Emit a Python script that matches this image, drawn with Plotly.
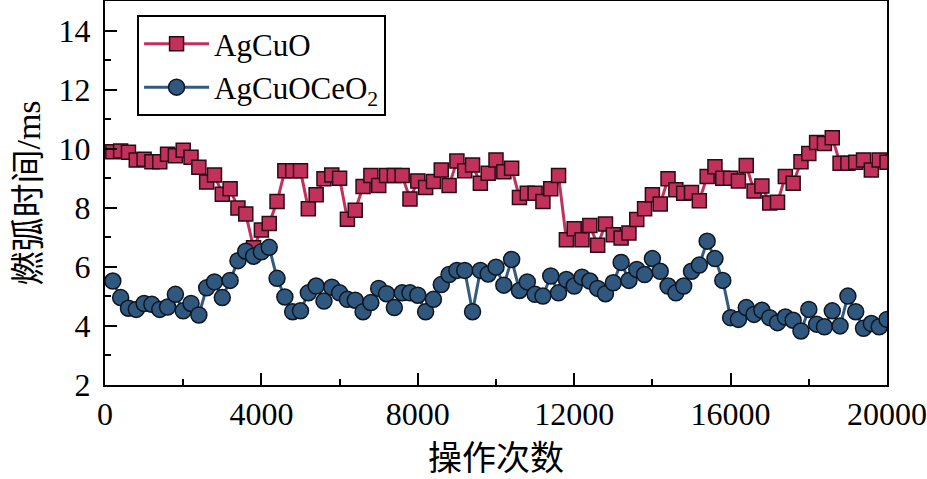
import plotly.graph_objects as go

ops = [200 * i for i in range(1, 101)]

agcuo = [9.90, 9.92, 9.88, 9.62, 9.64, 9.56, 9.56, 9.81, 9.76, 9.95,
         9.71, 9.37, 8.87, 9.11, 8.46, 8.64, 7.99, 7.79, 6.65, 7.25,
         7.47, 8.21, 9.25, 9.25, 9.25, 7.97, 8.44, 8.98, 9.11, 9.00,
         7.61, 7.92, 8.72, 9.09, 8.75, 9.09, 9.09, 9.09, 8.30, 8.91,
         8.69, 8.89, 9.28, 8.75, 9.58, 9.25, 9.45, 8.83, 9.17, 9.62,
         9.22, 9.34, 8.35, 8.49, 8.49, 8.21, 8.64, 9.09, 6.92, 7.29,
         6.92, 7.40, 6.73, 7.45, 7.09, 6.98, 7.15, 7.60, 7.97, 8.44,
         8.13, 8.98, 8.61, 8.49, 8.52, 8.24, 9.06, 9.39, 9.00, 9.00,
         8.91, 9.43, 8.57, 8.74, 8.16, 8.19, 9.06, 8.83, 9.56, 9.84,
         10.21, 10.18, 10.37, 9.51, 9.51, 9.54, 9.62, 9.28, 9.62, 9.54]

agcuoceo2 = [5.52, 4.96, 4.60, 4.56, 4.76, 4.73, 4.56, 4.64, 5.07, 4.51,
             4.76, 4.37, 5.29, 5.49, 4.96, 5.54, 6.21, 6.53, 6.36, 6.51,
             6.66, 5.61, 4.98, 4.48, 4.51, 5.12, 5.35, 4.84, 5.31, 5.12,
             4.90, 4.87, 4.48, 4.79, 5.27, 5.09, 4.62, 5.12, 5.12, 5.04,
             4.48, 4.90, 5.40, 5.74, 5.88, 5.88, 4.48, 5.88, 5.76, 5.99,
             5.38, 6.25, 5.20, 5.49, 5.07, 5.01, 5.69, 5.12, 5.57, 5.35,
             5.65, 5.52, 5.27, 5.09, 5.46, 6.15, 5.54, 5.91, 5.74, 6.28,
             5.85, 5.35, 5.12, 5.35, 5.85, 6.06, 6.87, 6.28, 5.54, 4.28,
             4.22, 4.62, 4.39, 4.53, 4.28, 4.11, 4.30, 4.19, 3.83, 4.56,
             4.06, 3.97, 4.51, 4.00, 5.01, 4.48, 3.92, 4.08, 3.97, 4.22]

x_ticks = [0, 4000, 8000, 12000, 16000, 20000]
y_ticks = [2, 4, 6, 8, 10, 12, 14]

serif = "Liberation Serif, Times New Roman, Noto Sans CJK SC, serif"
title_font = "Liberation Serif, Noto Sans CJK SC, serif"

fig = go.Figure()
fig.add_trace(go.Scatter(
    x=ops, y=agcuo, name="AgCuO", mode="lines+markers",
    line=dict(color="#C2305C", width=3),
    marker=dict(symbol="square", size=14, color="#C2305C",
                line=dict(color="#2a0a14", width=1.5)),
))
fig.add_trace(go.Scatter(
    x=ops, y=agcuoceo2, name="AgCuOCeO<sub>2</sub>", mode="lines+markers",
    line=dict(color="#345A80", width=3),
    marker=dict(symbol="circle", size=16, color="#30587F",
                line=dict(color="#0d1620", width=1.5)),
))

fig.update_layout(
    width=927, height=479,
    margin=dict(l=105, r=40, t=1, b=94),
    paper_bgcolor="white", plot_bgcolor="white",
    font=dict(family=serif, size=31, color="black"),
    showlegend=True,
    legend=dict(
        x=0.041, y=0.963, xanchor="left", yanchor="top",
        bgcolor="white", bordercolor="black", borderwidth=2,
        font=dict(family=serif, size=31, color="black"),
        itemwidth=65, tracegroupgap=0,
    ),
)

fig.update_xaxes(
    range=[0, 20000], tickvals=x_ticks, ticktext=[str(v) for v in x_ticks],
    ticks="inside", ticklen=12, tickwidth=1.5, tickcolor="black",
    minor=dict(ticks="inside", ticklen=6, dtick=2000, tickwidth=1.5, tickcolor="black"),
    showline=True, linecolor="black", linewidth=2, mirror=True,
    showgrid=False, zeroline=False, automargin=False,
    tickfont=dict(family=serif, size=32),
    title=dict(text="操作次数", font=dict(family=title_font, size=34), standoff=15),
)
fig.update_yaxes(
    range=[2, 15], tickvals=y_ticks, ticktext=[str(v) for v in y_ticks],
    ticks="inside", ticklen=12, tickwidth=1.5, tickcolor="black",
    minor=dict(ticks="inside", ticklen=6, dtick=1, tickwidth=1.5, tickcolor="black"),
    showline=True, linecolor="black", linewidth=2, mirror=True,
    showgrid=False, zeroline=False, automargin=False,
    tickfont=dict(family=serif, size=32),
    ticklabelstandoff=6,
    title=dict(text="燃弧时间/ms", font=dict(family=title_font, size=34), standoff=8),
)

fig.write_html("out.html", config={"displayModeBar": False},
               post_script="document.body.style.margin='0';")
